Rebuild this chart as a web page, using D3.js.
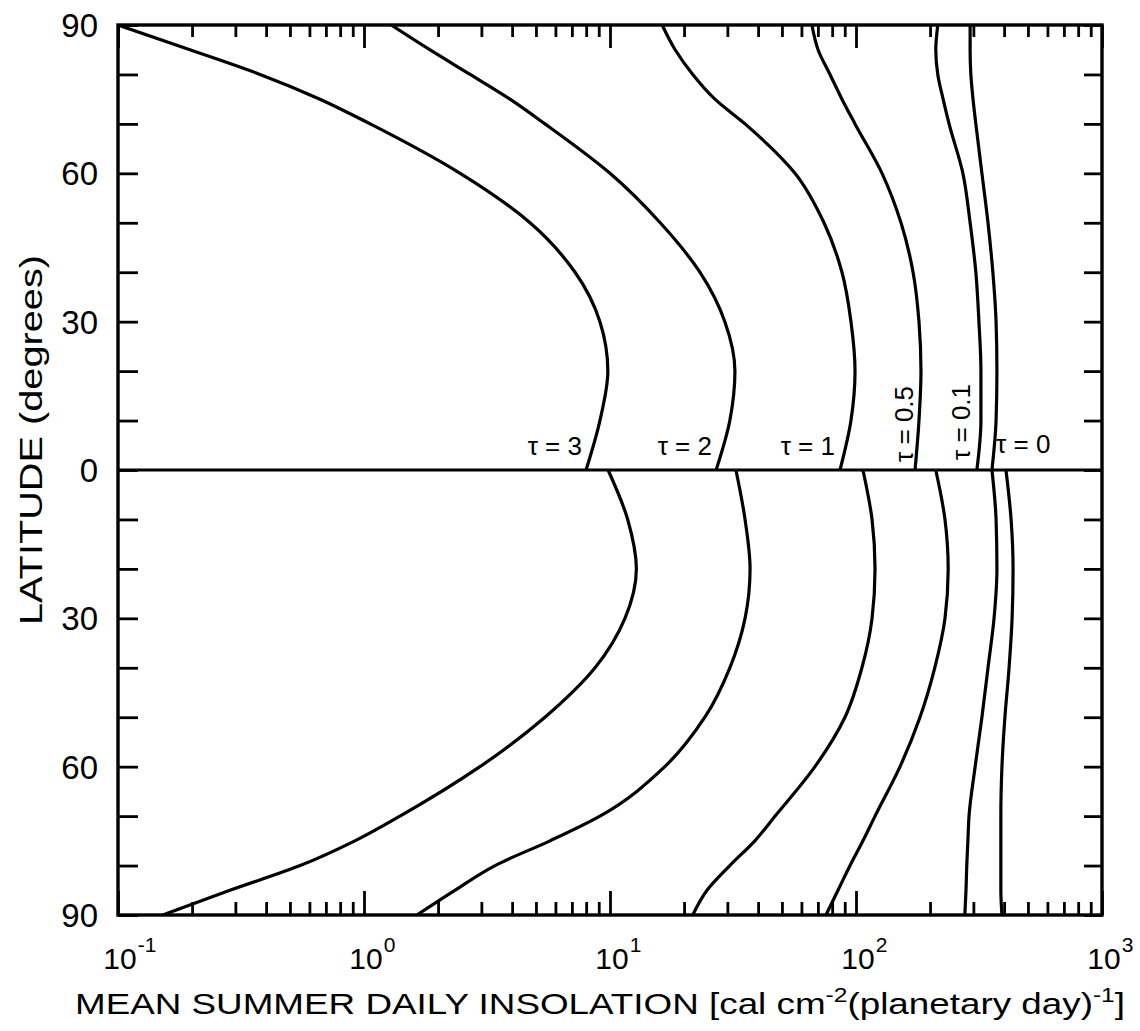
<!DOCTYPE html>
<html><head><meta charset="utf-8">
<script src="https://cdn.jsdelivr.net/npm/d3@7"></script>
<style>
html,body{margin:0;padding:0;background:#fff;}
svg{display:block;}
text{font-family:"Liberation Sans","DejaVu Sans",Arial,sans-serif;fill:#000;}
</style></head>
<body>
<svg id="chart" width="1140" height="1031"></svg>
<script>
// ---- DATA ----
const latNorth = [90, 85, 80, 75, 70, 60, 50, 40, 30, 20, 10, 0];
const latSouth = [0, -10, -20, -30, -40, -50, -60, -70, -75, -80, -85, -90];
const tauLabels = ["τ = 3", "τ = 2", "τ = 1", "τ = 0.5", "τ = 0.1", "τ = 0"];
// insolation values (cal cm^-2 per planetary day) along latNorth
const northTau3   = [0.1, 0.196, 0.378, 0.662, 1.06, 2.46, 4.73, 7.21, 9.1, 9.8, 9.1, 7.99];
const northTau2   = [1.29, 1.85, 2.70, 3.92, 5.44, 10.0, 16.0, 23.2, 29.3, 32.2, 30.7, 27.0];
const northTau1   = [16.3, 18.4, 21.7, 26.7, 35.4, 56.5, 74.1, 87.7, 95.4, 99.1, 95.4, 86.1];
const northTau05  = [66.2, 70.1, 78.4, 87.7, 99.1, 127.6, 152.4, 170.6, 180.3, 183.7, 180.3, 173.8];
const northTau01  = [215, 211, 215, 226, 239, 272, 291, 307, 316, 322, 322, 310];
const northTau0   = [291, 291, 293, 299, 307, 325, 344, 360, 371, 374, 371, 357];
// insolation values along latSouth
const southTau3   = [9.82, 11.8, 12.8, 11.5, 8.69, 5.44, 2.96, 1.40, 0.918, 0.550, 0.285, 0.152];
const southTau2   = [32.5, 35.4, 37.1, 35.4, 30.7, 24.3, 16.7, 9.1, 5.70, 3.41, 2.34, 1.64];
const southTau1   = [106.7, 116.2, 119.5, 116.2, 105.7, 90.2, 68.1, 46.9, 38.8, 30.7, 24.8, 21.7];
const southTau05  = [211, 230, 237, 230, 209, 182, 151, 119.5, 106.7, 94.6, 84.5, 75.5];
const southTau01  = [357, 371, 374, 364, 344, 325, 305, 288, 285, 282, 280, 277];
const southTau0   = [407, 427, 435, 431, 419, 403, 392, 388, 388, 388, 388, 392];
const xMajorTicks = [0.1, 1, 10, 100, 1000];
const xTickExponents = ["-1", "0", "1", "2", "3"];
const yTicks = [-90, -80, -70, -60, -50, -40, -30, -20, -10, 0, 10, 20, 30, 40, 50, 60, 70, 80, 90];
const yLabelTicks = [-90, -60, -30, 0, 30, 60, 90];

// ---- LAYOUT ----
const svg = d3.select("#chart");
const L = 118, R = 1102, T = 25, B = 915;
const x = d3.scaleLog().domain([0.1, 1000]).range([L, R]);
const y = d3.scaleLinear().domain([-90, 90]).range([B, T]);

const minorTicks = [];
xMajorTicks.slice(0, -1).forEach(d => { for (let k = 2; k <= 9; k++) minorTicks.push(d * k); });

function tickAxis(gen, ticks, size, transform) {
  const g = svg.append("g").attr("transform", transform)
    .call(gen.tickValues(ticks).tickSize(size).tickFormat(""));
  g.select(".domain").remove();
  g.selectAll("line").attr("stroke", "#000").attr("stroke-width", 2.8);
  return g;
}
tickAxis(d3.axisBottom(x), minorTicks, -13, `translate(0,${B})`);
tickAxis(d3.axisBottom(x), xMajorTicks, -24, `translate(0,${B})`);
tickAxis(d3.axisTop(x), minorTicks, -12, `translate(0,${T})`);
tickAxis(d3.axisTop(x), xMajorTicks, -23, `translate(0,${T})`);
tickAxis(d3.axisLeft(y), yTicks, -20, `translate(${L},0)`);
tickAxis(d3.axisRight(y), yTicks, -18, `translate(${R},0)`);

svg.append("rect").attr("x", L).attr("y", T).attr("width", R - L).attr("height", B - T)
  .attr("fill", "none").attr("stroke", "#000").attr("stroke-width", 3.4);
svg.append("line").attr("x1", L).attr("x2", R).attr("y1", y(0)).attr("y2", y(0))
  .attr("stroke", "#000").attr("stroke-width", 2.8);

const line = d3.line().x(d => x(d[1])).y(d => y(d[0])).curve(d3.curveMonotoneY);
svg.append("clipPath").attr("id", "pc").append("rect")
  .attr("x", L).attr("y", T).attr("width", R - L).attr("height", B - T);
const northSeries = [northTau3, northTau2, northTau1, northTau05, northTau01, northTau0];
const southSeries = [southTau3, southTau2, southTau1, southTau05, southTau01, southTau0];
const curves = svg.append("g").attr("clip-path", "url(#pc)");
northSeries.forEach(vals => {
  curves.append("path").attr("d", line(latNorth.map((l, i) => [l, vals[i]])))
    .attr("fill", "none").attr("stroke", "#000").attr("stroke-width", 3.2);
});
southSeries.forEach(vals => {
  curves.append("path").attr("d", line(latSouth.map((l, i) => [l, vals[i]])))
    .attr("fill", "none").attr("stroke", "#000").attr("stroke-width", 3.2);
});

yLabelTicks.forEach(t => {
  svg.append("text").attr("x", L - 20).attr("y", y(t)).attr("dy", "0.36em")
    .attr("text-anchor", "end").style("font-size", "33px").text(Math.abs(t));
});
xMajorTicks.forEach((t, i) => {
  const tx = x(t);
  const base = svg.append("text").attr("x", tx + 2).attr("y", 969)
    .attr("text-anchor", "middle").style("font-size", "30px").text("10");
  const w = base.node().getComputedTextLength();
  svg.append("text").attr("x", tx + 2 + w / 2 + 1).attr("y", 952)
    .style("font-size", "21px").text(xTickExponents[i]);
});

const tauPos = [[0, 582, 455], [1, 712, 455], [2, 835, 455]];
tauPos.forEach(p => {
  svg.append("text").attr("x", p[1]).attr("y", p[2]).attr("text-anchor", "end")
    .style("font-size", "26px").text(tauLabels[p[0]]);
});
svg.append("text").attr("transform", "translate(913,462) rotate(-90)")
  .style("font-size", "26px").text(tauLabels[3]);
svg.append("text").attr("transform", "translate(970,460) rotate(-90)")
  .style("font-size", "26px").text(tauLabels[4]);
svg.append("text").attr("x", 996).attr("y", 453)
  .style("font-size", "26px").text(tauLabels[5]);

const xt = svg.append("text").attr("x", 75).attr("y", 1014)
  .attr("textLength", 1050).attr("lengthAdjust", "spacingAndGlyphs")
  .style("font-size", "30px");
xt.append("tspan").text("MEAN SUMMER DAILY INSOLATION [cal cm");
xt.append("tspan").attr("dy", -12).style("font-size", "20px").text("-2");
xt.append("tspan").attr("dy", 12).text("(planetary day)");
xt.append("tspan").attr("dy", -12).style("font-size", "20px").text("-1");
xt.append("tspan").attr("dy", 12).text("]");

svg.append("text").attr("transform", "translate(42,440) rotate(-90)")
  .attr("text-anchor", "middle").attr("textLength", 370).attr("lengthAdjust", "spacingAndGlyphs")
  .style("font-size", "32px").text("LATITUDE  (degrees)");
</script>
</body></html>
